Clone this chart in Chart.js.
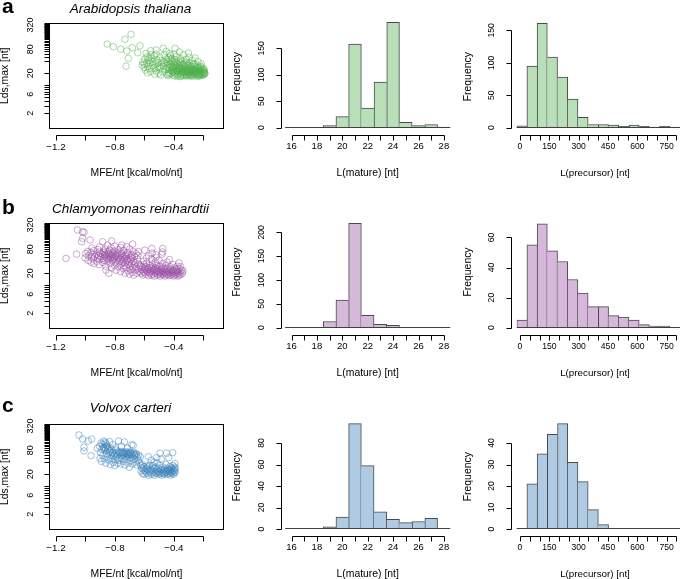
<!DOCTYPE html>
<html>
<head>
<meta charset="utf-8">
<script src="https://cdn.jsdelivr.net/npm/chart.js@4.4.1/dist/chart.umd.min.js"></script>
<style>
body { margin: 0; background: #fff; }
#fig { position: relative; width: 680px; height: 579px; }
#fig canvas { position: absolute; left: 0; top: 0; }
</style>
</head>
<body>
<div id="fig"></div>
<script>
// ---- data ----
const mfeTicks = [-1.2, -1.0, -0.8, -0.6, -0.4, -0.2];
const mfeLabels = [-1.2, -0.8, -0.4];
const ldsTicks = [2, 3, 4, 5, 6, 7, 8, 9, 10, 20, 40, 50, 60, 70, 80, 90, 100, 110, 120, 130, 140, 150, 160, 170, 180, 190, 200, 210, 220, 230, 240, 250, 260, 270, 280, 290, 300, 310, 320, 330, 340, 350];
const ldsLabels = [2, 6, 20, 80, 320];

const matureBins = ['16', '17', '18', '19', '20', '21', '22', '23', '24', '25', '26', '27', '28'];
const matureTicks = [16, 17, 18, 19, 20, 21, 22, 23, 24, 25, 26, 27, 28];
const matureLabels = [16, 18, 20, 22, 24, 26, 28];
const precursorBins = ['0', '50', '100', '150', '200', '250', '300', '350', '400', '450', '500', '550', '600', '650', '700', '750'];
const precursorTicks = [0, 50, 100, 150, 200, 250, 300, 350, 400, 450, 500, 550, 600, 650, 700, 750, 800];
const precursorLabels = [0, 150, 300, 450, 600, 750];

const arabMature = [0, 0, 0, 4, 21, 158, 37, 86, 199, 10, 4, 6, 1];
const chlamyMature = [0, 0, 0, 13, 58, 219, 26, 7, 5, 0, 0, 1, 0];
const volvoxMature = [0, 0, 0, 2, 11, 98, 59, 16, 9, 6, 7, 10, 0];
const arabPrecursor = [3, 95, 161, 109, 78, 44, 16, 5, 5, 4, 2, 4, 2, 1, 2, 1];
const chlamyPrecursor = [5, 55, 69, 51, 44, 32, 23, 14, 14, 8, 7, 5, 2, 1, 1, 0];
const volvoxPrecursor = [0, 21, 35, 44, 49, 31, 22, 9, 2, 0, 0, 0, 0, 0, 0, 0];

const arabMatureFreq = [0, 50, 100, 150];
const chlamyMatureFreq = [0, 50, 100, 150, 200];
const volvoxMatureFreq = [0, 20, 40, 60, 80];
const arabPrecursorFreq = [0, 50, 100, 150];
const chlamyPrecursorFreq = [0, 20, 40, 60];
const volvoxPrecursorFreq = [0, 10, 20, 30, 40];

// [MFE/nt, Lds,max]
const arabPts = [
  [-0.852,107],[-0.811,92],[-0.761,80],[-0.732,141],[-0.691,188],[-0.720,72],[-0.682,87],[-0.709,47],[-0.725,30],
  [-0.630,97],[-0.646,65],[-0.589,63],[-0.557,73],[-0.521,76],[-0.472,84],[-0.392,84],[-0.452,70],[-0.428,62],
  [-0.362,68],[-0.302,64],[-0.556,58],
  [-0.615,32],[-0.611,38],[-0.603,28],[-0.598,45],[-0.592,24],[-0.586,35],[-0.581,52],[-0.576,30],[-0.571,41],
  [-0.566,26],[-0.561,36],[-0.556,22],[-0.551,47],[-0.546,31],[-0.541,39],[-0.536,27],[-0.531,55],[-0.526,34],
  [-0.521,23],[-0.516,43],[-0.511,29],[-0.506,37],[-0.501,20],[-0.496,50],[-0.491,26],[-0.486,33],[-0.481,41],
  [-0.476,22],[-0.471,30],[-0.466,57],[-0.461,36],[-0.456,25],[-0.451,45],[-0.447,19],[-0.444,32],
  [-0.580,20.5],[-0.530,19],[-0.490,18],[-0.600,34],[-0.570,48],[-0.520,60],[-0.500,28],[-0.470,38],
  [-0.441,28],[-0.437,21],[-0.444,38],[-0.439,17.5],[-0.435,48],
  [-0.431,24],[-0.427,33],[-0.433,19],[-0.425,42],[-0.429,27],
  [-0.421,20],[-0.417,30],[-0.423,55],[-0.415,23],[-0.419,36],
  [-0.411,26],[-0.407,18],[-0.413,40],[-0.405,29],[-0.409,22],[-0.414,47],
  [-0.401,21],[-0.397,34],[-0.403,24],[-0.395,17],[-0.399,60],[-0.404,28],
  [-0.391,19],[-0.387,27],[-0.393,38],[-0.385,23],[-0.389,31],[-0.394,44],
  [-0.381,22],[-0.377,17],[-0.383,29],[-0.375,35],[-0.379,25],[-0.384,52],
  [-0.371,20],[-0.367,26],[-0.373,18.5],[-0.365,32],[-0.369,41],[-0.374,23],
  [-0.361,24],[-0.357,17],[-0.363,30],[-0.355,21],[-0.359,37],[-0.364,27],[-0.356,46],
  [-0.351,19],[-0.347,22],[-0.353,28],[-0.345,34],[-0.349,25],[-0.354,16.5],
  [-0.341,21],[-0.337,26],[-0.343,18],[-0.335,31],[-0.339,23],[-0.344,40],[-0.336,58],
  [-0.331,17.5],[-0.327,24],[-0.333,20],[-0.325,29],[-0.329,35],[-0.334,22],
  [-0.321,19],[-0.317,23],[-0.323,27],[-0.315,18],[-0.319,33],[-0.324,21],[-0.316,44],
  [-0.311,20],[-0.307,25],[-0.313,17],[-0.305,30],[-0.309,22],[-0.314,38],
  [-0.301,18],[-0.297,22],[-0.303,26],[-0.295,19],[-0.299,32],[-0.304,24],[-0.296,50],
  [-0.291,21],[-0.287,17],[-0.293,23],[-0.285,28],[-0.289,20],[-0.294,36],
  [-0.281,19],[-0.277,24],[-0.283,18],[-0.275,22],[-0.279,30],[-0.284,26],[-0.276,42],
  [-0.271,17],[-0.267,21],[-0.273,25],[-0.265,20],[-0.269,33],[-0.274,23],
  [-0.261,18.5],[-0.257,22],[-0.263,19],[-0.255,27],[-0.259,24],[-0.264,35],[-0.256,48],
  [-0.251,20],[-0.247,17],[-0.253,23],[-0.245,21],[-0.249,29],[-0.254,25],
  [-0.241,18],[-0.237,22],[-0.243,19.5],[-0.235,26],[-0.239,31],[-0.244,24],[-0.236,39],
  [-0.231,17],[-0.227,20],[-0.233,23],[-0.225,21],[-0.229,28],[-0.234,19],
  [-0.221,18],[-0.217,22],[-0.223,25],[-0.215,20],[-0.219,30],[-0.224,17.5],
  [-0.211,19],[-0.207,21],[-0.213,24],[-0.205,18],[-0.209,27],[-0.214,34],
  [-0.201,18],[-0.197,20],[-0.203,23],[-0.195,21],[-0.199,26],
  [-0.191,19],[-0.193,22],[-0.189,20],[-0.194,24]
];

const chlamyPts = [
  [-1.055,240],[-1.021,218],[-1.010,210],[-1.026,122],[-1.019,149],[-1.132,47],[-1.060,60],[-0.969,135],
  [-0.883,122],[-0.822,128],[-0.754,101],[-0.680,107],[-0.641,69],[-0.550,83],[-0.476,83],[-0.478,68],
  [-0.548,64],[-0.598,75],[-0.522,58],
  [-1.002,48],[-0.998,62],[-0.982,42],[-0.978,55],[-0.984,70],
  [-0.962,38],[-0.958,50],[-0.964,66],[-0.956,85],[-0.948,45],[-0.952,58],
  [-0.942,35],[-0.938,52],[-0.944,73],[-0.922,40],[-0.918,48],[-0.924,60],[-0.916,78],
  [-0.908,33],[-0.912,55],[-0.906,68],[-0.902,44],[-0.898,52],[-0.896,62],[-0.904,90],
  [-0.882,37],[-0.878,47],[-0.884,58],[-0.876,71],[-0.872,42],[-0.868,54],[-0.874,65],[-0.866,80],
  [-0.862,30],[-0.858,50],[-0.864,60],[-0.861,24],
  [-0.852,39],[-0.848,46],[-0.854,57],[-0.846,69],[-0.851,100],
  [-0.842,44],[-0.838,52],[-0.844,63],[-0.836,75],[-0.841,20],
  [-0.832,35],[-0.828,48],[-0.834,58],[-0.826,86],
  [-0.822,27],[-0.818,41],[-0.824,55],[-0.816,66],
  [-0.812,45],[-0.808,51],[-0.814,60],[-0.806,72],
  [-0.802,31],[-0.798,38],[-0.804,49],[-0.796,57],[-0.801,95],
  [-0.792,24],[-0.788,43],[-0.794,54],[-0.786,64],
  [-0.782,36],[-0.778,47],[-0.784,60],[-0.776,78],
  [-0.772,29],[-0.768,40],[-0.774,52],[-0.766,68],
  [-0.762,22],[-0.758,34],[-0.764,45],[-0.756,57],[-0.761,88],
  [-0.752,38],[-0.748,49],[-0.754,62],
  [-0.742,26],[-0.738,31],[-0.744,43],[-0.736,55],[-0.741,74],
  [-0.732,20],[-0.728,36],[-0.734,47],[-0.726,58],
  [-0.722,28],[-0.718,41],[-0.724,52],[-0.716,66],[-0.721,92],
  [-0.712,23],[-0.708,33],[-0.714,45],[-0.706,60],
  [-0.702,19],[-0.698,30],[-0.704,39],[-0.696,50],[-0.701,80],
  [-0.692,25],[-0.688,35],[-0.694,44],[-0.686,57],
  [-0.682,21],[-0.678,28],[-0.684,48],[-0.676,70],
  [-0.672,18],[-0.668,32],[-0.674,40],[-0.666,53],
  [-0.662,24],[-0.658,29],[-0.664,37],[-0.656,62],
  [-0.652,20],[-0.648,45],[-0.642,26],[-0.638,34],[-0.644,55],[-0.632,22],[-0.628,31],
  [-0.622,20],[-0.618,25],[-0.624,30],
  [-0.612,18],[-0.608,23],[-0.614,28],[-0.606,40],
  [-0.602,21],[-0.598,26],[-0.604,33],
  [-0.592,19],[-0.588,24],[-0.594,29],[-0.586,48],
  [-0.582,22],[-0.578,27],[-0.584,36],
  [-0.572,17.5],[-0.568,21],[-0.574,25],[-0.566,31],[-0.571,55],
  [-0.562,20],[-0.558,23],[-0.564,28],
  [-0.552,18],[-0.548,22],[-0.554,26],[-0.546,34],[-0.551,45],
  [-0.542,19],[-0.538,24],[-0.544,29],
  [-0.532,17],[-0.528,21],[-0.534,25],[-0.526,38],
  [-0.522,20],[-0.518,23],[-0.524,27],[-0.516,32],[-0.521,50],
  [-0.512,18],[-0.508,22],[-0.514,26],
  [-0.502,19],[-0.498,21],[-0.504,24],[-0.496,30],[-0.501,42],
  [-0.492,17],[-0.488,20],[-0.494,23],[-0.486,28],
  [-0.482,18.5],[-0.478,22],[-0.484,25],[-0.476,35],[-0.481,60],
  [-0.472,19],[-0.468,21],[-0.474,27],
  [-0.462,17],[-0.458,20],[-0.464,24],[-0.456,31],
  [-0.452,18],[-0.448,22],[-0.454,26],[-0.446,38],
  [-0.442,19],[-0.438,21],[-0.444,25],
  [-0.432,17.5],[-0.428,20],[-0.434,23],[-0.426,29],[-0.431,44],
  [-0.422,18],[-0.418,22],[-0.424,26],
  [-0.412,19],[-0.408,21],[-0.414,24],[-0.406,33],
  [-0.402,17],[-0.398,20],[-0.404,23],
  [-0.392,18],[-0.388,22],[-0.394,27],
  [-0.382,19],[-0.378,21],[-0.384,25],[-0.376,30],
  [-0.372,17],[-0.368,20],[-0.374,23],[-0.366,36],
  [-0.362,18],[-0.358,22],[-0.364,26],
  [-0.352,19],[-0.348,24],[-0.354,29],
  [-0.342,20],[-0.338,23]
];

const volvoxPts = [
  [-1.044,191],[-1.019,151],[-0.981,135],[-0.958,151],[-1.010,94],[-1.010,76],[-0.962,58],[-0.920,89],
  [-0.902,50],[-0.898,70],[-0.904,100],[-0.892,42],[-0.888,85],[-0.894,120],
  [-0.882,60],[-0.878,95],[-0.884,110],[-0.876,135],[-0.872,48],[-0.868,78],[-0.874,88],[-0.866,125],
  [-0.862,38],[-0.858,65],[-0.864,92],[-0.856,105],[-0.861,115],[-0.852,55],[-0.848,82],[-0.854,98],
  [-0.842,45],[-0.838,70],[-0.844,90],[-0.836,130],[-0.832,35],[-0.828,60],[-0.834,76],
  [-0.822,50],[-0.818,68],[-0.824,85],[-0.816,110],[-0.812,40],[-0.808,58],[-0.814,72],
  [-0.802,33],[-0.798,47],[-0.804,64],[-0.796,92],[-0.792,55],[-0.788,70],[-0.794,80],
  [-0.782,38],[-0.778,48],[-0.784,62],[-0.776,135],[-0.772,44],[-0.768,66],[-0.774,74],
  [-0.762,36],[-0.758,58],[-0.764,70],[-0.756,100],[-0.752,50],[-0.748,64],[-0.754,72],[-0.746,68],
  [-0.742,42],[-0.738,60],[-0.744,70],[-0.736,128],[-0.732,34],[-0.728,55],[-0.734,66],[-0.726,74],
  [-0.722,47],[-0.718,62],[-0.724,69],[-0.716,90],[-0.712,38],[-0.708,58],[-0.714,65],[-0.706,72],
  [-0.702,30],[-0.698,52],[-0.704,63],[-0.696,70],[-0.692,44],[-0.688,60],[-0.694,68],[-0.686,110],
  [-0.682,36],[-0.678,56],[-0.684,64],[-0.676,105],[-0.672,48],[-0.668,62],[-0.674,70],
  [-0.662,40],[-0.658,58],[-0.664,66],[-0.652,34],[-0.648,52],[-0.654,64],
  [-0.642,44],[-0.638,60],[-0.632,38],[-0.628,54],
  [-0.622,24],[-0.618,29],[-0.624,33],[-0.612,21],[-0.608,27],[-0.614,35],
  [-0.602,20],[-0.598,25],[-0.604,31],[-0.592,23],[-0.588,28],
  [-0.582,21],[-0.578,26],[-0.584,32],[-0.573,55],[-0.572,19],[-0.568,24],[-0.574,30],
  [-0.562,22],[-0.558,27],[-0.564,34],[-0.552,20],[-0.548,25],[-0.554,45],
  [-0.542,22],[-0.538,28],[-0.544,33],[-0.532,19],[-0.528,23],[-0.534,40],
  [-0.517,52],[-0.522,21],[-0.518,26],[-0.524,30],[-0.512,22],[-0.508,24],[-0.514,38],
  [-0.502,20],[-0.498,23],[-0.504,28],[-0.494,67],[-0.492,21],[-0.488,25],[-0.496,33],[-0.486,48],
  [-0.482,19],[-0.478,22],[-0.484,26],[-0.472,21],[-0.468,24],[-0.474,30],
  [-0.462,20],[-0.458,23],[-0.464,27],[-0.449,67],[-0.452,22],[-0.448,25],[-0.454,35],
  [-0.442,20],[-0.438,24],[-0.444,28],[-0.436,52],[-0.432,21],[-0.428,23],[-0.434,26],[-0.426,31],
  [-0.422,19],[-0.418,22],[-0.424,25],[-0.416,29],[-0.408,69],[-0.412,21],[-0.409,24],[-0.414,27],[-0.406,33],
  [-0.402,20],[-0.398,23],[-0.404,26],[-0.396,30],[-0.392,22],[-0.394,25],[-0.391,28],[-0.393,37]
];

// ---- layout ----
const W = 680, H = 579;
const FAM = '"Liberation Sans", Arial, Helvetica, sans-serif';
const rows = [
  { off: 0,   letterY: 13.2,  titleY: 12.7,  zero: 127.7, matPpu: 0.5293, precPpu: 0.649, freqY: 76.7 },
  { off: 200, letterY: 214,   titleY: 213.3, zero: 327.7, matPpu: 0.4767, precPpu: 1.505, freqY: 272 },
  { off: 401, letterY: 411.5, titleY: 412.3, zero: 529,   matPpu: 1.075,  precPpu: 2.15,  freqY: 476.7 }
];
const fig = document.getElementById('fig');

function drawAxis(ctx, scale, ax, horiz) {
  const p = v => Math.round(scale.getPixelForValue(v)) + 0.5;
  const at = Math.round(ax.at) + 0.5, t = ax.ticks, len = 5;
  ctx.beginPath();
  if (horiz) {
    ctx.moveTo(p(t[0]), at); ctx.lineTo(p(t[t.length - 1]), at);
    t.forEach(v => { ctx.moveTo(p(v), at); ctx.lineTo(p(v), at + len); });
  } else {
    ctx.moveTo(at, p(t[0])); ctx.lineTo(at, p(t[t.length - 1]));
    t.forEach(v => { ctx.moveTo(at, p(v)); ctx.lineTo(at - len, p(v)); });
  }
  ctx.stroke();
  ctx.font = ax.size + 'px ' + FAM;
  ctx.textAlign = 'center';
  ctx.textBaseline = 'middle';
  ax.labels.forEach(v => {
    const s = ax.fmt ? ax.fmt(v) : String(v), q = scale.getPixelForValue(v);
    if (horiz) {
      ctx.fillText(s, q, ax.labelAt);
    } else {
      ctx.save(); ctx.translate(ax.labelAt, q); ctx.rotate(-Math.PI / 2);
      ctx.fillText(s, 0, 0); ctx.restore();
    }
  });
}

function drawText(ctx, t) {
  ctx.save();
  ctx.font = (t.style || '') + ' ' + t.size + 'px ' + FAM;
  ctx.textAlign = t.align || 'center';
  ctx.textBaseline = t.base || 'middle';
  ctx.translate(t.x, t.y);
  if (t.rot) ctx.rotate(-Math.PI / 2);
  ctx.fillText(t.s, 0, 0);
  ctx.restore();
}

// R-like axes, frame and labels, placed with the chart's own scales
function rPlugin(spec) {
  return {
    id: 'rStyle',
    afterDraw(chart) {
      const ctx = chart.ctx, a = chart.chartArea;
      ctx.save();
      ctx.strokeStyle = '#000';
      ctx.fillStyle = '#000';
      ctx.lineWidth = 1;
      if (spec.box) {
        const l = Math.round(a.left), t = Math.round(a.top);
        ctx.strokeRect(l + 0.5, t + 0.5, Math.round(a.right) - l, Math.round(a.bottom) - t);
      }
      if (spec.base) {
        const y0 = Math.round(a.bottom) - 0.5;
        ctx.strokeStyle = '#404040';
        ctx.beginPath(); ctx.moveTo(a.left, y0); ctx.lineTo(a.right, y0); ctx.stroke();
        ctx.strokeStyle = '#000';
      }
      drawAxis(ctx, chart.scales[spec.x.scale], spec.x, true);
      drawAxis(ctx, chart.scales.y, spec.y, false);
      spec.texts.forEach(t => drawText(ctx, t));
      ctx.restore();
    }
  };
}

function makeChart(cfg) {
  const c = document.createElement('canvas');
  c.width = W; c.height = H;
  fig.appendChild(c);
  return new Chart(c, cfg);
}

function scatterPanel(pts, color, r, letter, title) {
  const o = r.off;
  makeChart({
    type: 'scatter',
    data: {
      datasets: [{
        data: pts.map(p => ({ x: p[0], y: p[1] })),
        pointBorderColor: color,
        pointBackgroundColor: 'rgba(0,0,0,0)',
        pointRadius: 3.3,
        pointBorderWidth: 0.8
      }]
    },
    options: {
      responsive: false, animation: false, events: [],
      layout: { padding: { left: 49.3, top: 23.3 + o, right: W - 222.7, bottom: H - (128.3 + o) } },
      plugins: { legend: { display: false }, tooltip: { enabled: false } },
      scales: {
        x: { type: 'linear', display: false, bounds: 'data', min: -1.2455, max: -0.0687 },
        y: { type: 'logarithmic', display: false, bounds: 'data', min: 0.845, max: 353 }
      }
    },
    plugins: [rPlugin({
      box: true,
      x: { scale: 'x', ticks: mfeTicks, labels: mfeLabels, at: 135 + o, labelAt: 146.8 + o, size: 9.8,
           fmt: v => '\u2212' + Math.abs(v).toFixed(1) },
      y: { ticks: ldsTicks, labels: ldsLabels, at: 49.3, labelAt: 31, size: 9 },
      texts: [
        { s: letter, x: 2, y: r.letterY, size: 21, style: 'bold', align: 'left', base: 'alphabetic' },
        { s: title, x: 130.5, y: r.titleY, size: 13.5, style: 'italic', base: 'alphabetic' },
        { s: 'MFE/nt [kcal/mol/nt]', x: 136.5, y: 173.3 + o, size: 10.4 },
        { s: 'Lds,max [nt]', x: 5.5, y: 75.8 + o, size: 10.4, rot: true }
      ]
    })]
  });
}

const matureGeo = { left: 285.15, right: 450.25, xtMin: 15.5, xtMax: 28.5, bins: matureBins,
  ticks: matureTicks, labels: matureLabels, tickSize: 9.5, axisX: 280.7, labelX: 261.7, freqX: 236.7,
  title: 'L(mature) [nt]', titleX: 367.7, titleSize: 10.4 };
const precursorGeo = { left: 516.7, right: 680, xtMin: -16.9, xtMax: 818.2, bins: precursorBins,
  ticks: precursorTicks, labels: precursorLabels, tickSize: 8.6, axisX: 510.7, labelX: 491.7, freqX: 468.3,
  title: 'L(precursor) [nt]', titleX: 595, titleSize: 9.8 };

function histPanel(geo, counts, fill, r, ppu, freqTicks) {
  const o = r.off, top = o + 10, bottom = r.zero;
  makeChart({
    type: 'bar',
    data: {
      labels: geo.bins,
      datasets: [{
        data: counts,
        backgroundColor: fill,
        borderColor: '#4a4a4a',
        borderSkipped: false,
        borderWidth: c => {
          const d = c.dataset.data, i = c.dataIndex, v = d[i];
          return { top: 1, bottom: 0,
                   left: (i === 0 || d[i - 1] <= v) ? 1 : 0,
                   right: (i === d.length - 1 || d[i + 1] < v) ? 1 : 0 };
        },
        barPercentage: 1,
        categoryPercentage: 1
      }]
    },
    options: {
      responsive: false, animation: false, events: [],
      layout: { padding: { left: geo.left, top: top, right: W - geo.right, bottom: H - bottom } },
      plugins: { legend: { display: false }, tooltip: { enabled: false } },
      scales: {
        x: { type: 'category', display: false },
        xt: { type: 'linear', axis: 'x', display: false, offset: false, grid: { offset: false },
              bounds: 'data', min: geo.xtMin, max: geo.xtMax },
        y: { type: 'linear', display: false, bounds: 'data', min: 0, max: (bottom - top) / ppu }
      }
    },
    plugins: [rPlugin({
      base: true,
      x: { scale: 'xt', ticks: geo.ticks, labels: geo.labels, at: 135 + o, labelAt: 146.8 + o, size: geo.tickSize },
      y: { ticks: freqTicks, labels: freqTicks, at: geo.axisX, labelAt: geo.labelX, size: 8.6 },
      texts: [
        { s: geo.title, x: geo.titleX, y: 173.3 + o, size: geo.titleSize },
        { s: 'Frequency', x: geo.freqX, y: r.freqY, size: 10.4, rot: true }
      ]
    })]
  });
}

const green = 'rgba(77,175,74,0.6)', purple = 'rgba(152,78,163,0.6)', blue = 'rgba(55,126,184,0.6)';
const greenFill = '#b8dfb7', purpleFill = '#d6b8da', blueFill = '#afcbe3';

scatterPanel(arabPts, green, rows[0], 'a', 'Arabidopsis thaliana');
histPanel(matureGeo, arabMature, greenFill, rows[0], rows[0].matPpu, arabMatureFreq);
histPanel(precursorGeo, arabPrecursor, greenFill, rows[0], rows[0].precPpu, arabPrecursorFreq);

scatterPanel(chlamyPts, purple, rows[1], 'b', 'Chlamyomonas reinhardtii');
histPanel(matureGeo, chlamyMature, purpleFill, rows[1], rows[1].matPpu, chlamyMatureFreq);
histPanel(precursorGeo, chlamyPrecursor, purpleFill, rows[1], rows[1].precPpu, chlamyPrecursorFreq);

scatterPanel(volvoxPts, blue, rows[2], 'c', 'Volvox carteri');
histPanel(matureGeo, volvoxMature, blueFill, rows[2], rows[2].matPpu, volvoxMatureFreq);
histPanel(precursorGeo, volvoxPrecursor, blueFill, rows[2], rows[2].precPpu, volvoxPrecursorFreq);
</script>
</body>
</html>
